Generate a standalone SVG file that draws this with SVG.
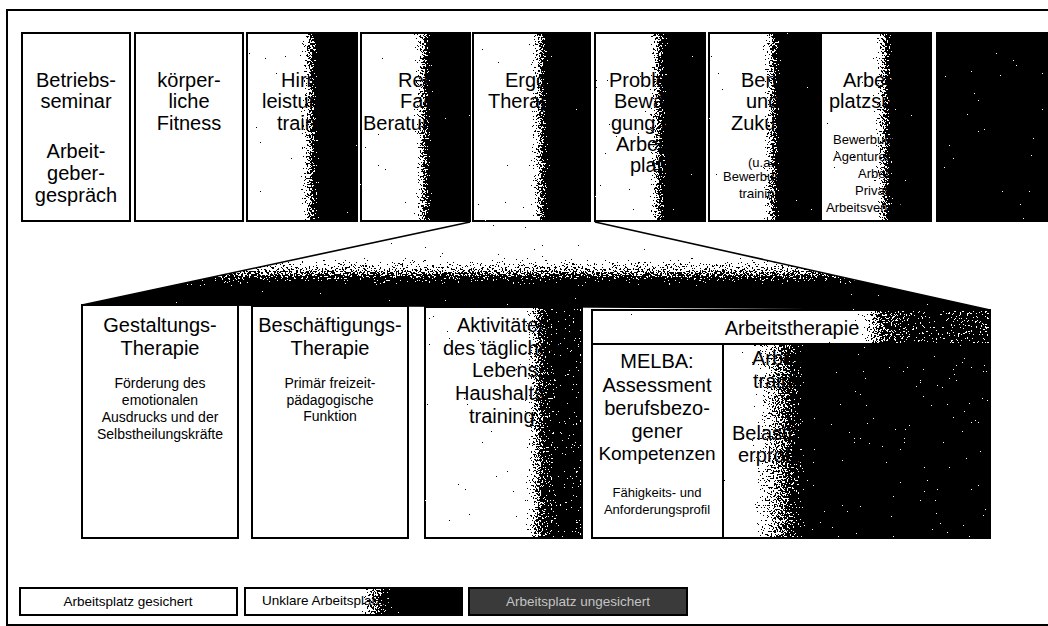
<svg xmlns="http://www.w3.org/2000/svg" width="1048" height="626" viewBox="0 0 1048 626">
<style>
.box{stroke:#000;stroke-width:2;}
.t{font-family:"Liberation Sans",Arial,sans-serif;font-size:20px;fill:#000;}
.s{font-family:"Liberation Sans",Arial,sans-serif;font-size:13px;fill:#000;}
.m{font-family:"Liberation Sans",Arial,sans-serif;font-size:14px;fill:#000;}
.c{text-anchor:middle;}
.ln{stroke:#000;stroke-width:1.6;fill:none;}
.g{filter:url(#grain);}
</style>
<defs>
<filter id="grain" color-interpolation-filters="sRGB" x="-2%" y="-2%" width="104%" height="104%">
<feTurbulence type="fractalNoise" baseFrequency="0.55" numOctaves="2" seed="7" result="noise"/>
<feColorMatrix in="noise" type="matrix" values="1 0 0 0 0  1 0 0 0 0  1 0 0 0 0  0 0 0 0 1" result="gn"/>
<feComposite in="SourceGraphic" in2="gn" operator="arithmetic" k1="0" k2="1" k3="1.5" k4="-0.75" result="mix"/>
<feComponentTransfer in="mix" result="thr">
<feFuncR type="discrete" tableValues="0 1"/>
<feFuncG type="discrete" tableValues="0 1"/>
<feFuncB type="discrete" tableValues="0 1"/>
</feComponentTransfer>
<feComposite in="thr" in2="SourceAlpha" operator="in"/>
</filter>
<linearGradient id="gTop" x1="0" y1="0" x2="1" y2="0">
<stop offset="0" stop-color="#fff"/><stop offset="0.47" stop-color="#fff"/><stop offset="0.58" stop-color="#777"/><stop offset="0.67" stop-color="#000"/><stop offset="1" stop-color="#000"/>
</linearGradient>
<linearGradient id="gAkt" x1="0" y1="0" x2="1" y2="0">
<stop offset="0" stop-color="#fff"/><stop offset="0.62" stop-color="#fff"/><stop offset="0.75" stop-color="#555"/><stop offset="0.87" stop-color="#222"/><stop offset="1" stop-color="#333"/>
</linearGradient>
<linearGradient id="gHead" x1="0" y1="0" x2="1" y2="0">
<stop offset="0" stop-color="#fff"/><stop offset="0.66" stop-color="#fff"/><stop offset="0.73" stop-color="#666"/><stop offset="0.85" stop-color="#333"/><stop offset="1" stop-color="#555"/>
</linearGradient>
<linearGradient id="gCell" x1="0" y1="0" x2="1" y2="0">
<stop offset="0" stop-color="#fff"/><stop offset="0.1" stop-color="#f4f4f4"/><stop offset="0.22" stop-color="#777"/><stop offset="0.32" stop-color="#0c0c0c"/><stop offset="1" stop-color="#111"/>
</linearGradient>
<linearGradient id="gLeg" x1="0" y1="0" x2="1" y2="0">
<stop offset="0" stop-color="#fff"/><stop offset="0.52" stop-color="#fff"/><stop offset="0.6" stop-color="#777"/><stop offset="0.69" stop-color="#111"/><stop offset="1" stop-color="#000"/>
</linearGradient>
<linearGradient id="gTrap" gradientUnits="userSpaceOnUse" x1="0" y1="255" x2="0" y2="287">
<stop offset="0" stop-color="#fff"/><stop offset="0.45" stop-color="#999"/><stop offset="1" stop-color="#000"/>
</linearGradient>
</defs>

<rect x="7" y="10" width="1050" height="615" fill="#fff" stroke="#000" stroke-width="2"/>

<g id="connectors">
<polygon class="g" points="470,222 595,222 990,310 82,305" fill="url(#gTrap)"/>
<line class="ln" x1="470" y1="222" x2="82" y2="305"/>
<line class="ln" x1="595" y1="222" x2="990" y2="310"/>
</g>

<g id="betriebsseminar">
<rect class="box" x="22" y="33" width="108" height="188" fill="#fff"/>
<text class="t c" x="76" y="87">Betriebs-</text>
<text class="t c" x="76" y="108">seminar</text>
<text class="t c" x="76" y="158">Arbeit-</text>
<text class="t c" x="76" y="180">geber-</text>
<text class="t c" x="76" y="202">gespräch</text>
</g>
<g id="fitness">
<rect class="box" x="135" y="33" width="108" height="188" fill="#fff"/>
<text class="t c" x="189" y="87">körper-</text>
<text class="t c" x="189" y="108">liche</text>
<text class="t c" x="189" y="130">Fitness</text>
</g>
<g id="hirnleistung">
<rect class="box g" x="247" y="33" width="110" height="188" fill="url(#gTop)"/>
<text class="t" x="281" y="87">Hirn-</text>
<text class="t" x="262" y="108">leistungs-</text>
<text class="t" x="277" y="130">training</text>
</g>
<g id="rehaberatung">
<rect class="box g" x="361" y="33" width="109" height="188" fill="url(#gTop)"/>
<text class="t" x="398" y="87">Reha-</text>
<text class="t" x="400" y="108">Fach-</text>
<text class="t" x="363" y="130">Beratung</text>
</g>
<g id="ergotherapie">
<rect class="box g" x="473" y="33" width="117" height="188" fill="url(#gTop)"/>
<text class="t" x="505" y="87">Ergo-</text>
<text class="t" x="488" y="108">Therapie</text>
</g>
<g id="problembewaeltigung">
<rect class="box g" x="595" y="33" width="110" height="188" fill="url(#gTop)"/>
<text class="t" x="609" y="87">Problem-</text>
<text class="t" x="614" y="108">Bewälti-</text>
<text class="t" x="611" y="130">gung am</text>
<text class="t" x="616" y="151">Arbeits-</text>
<text class="t" x="630" y="172">platz</text>
</g>
<g id="berufzukunft">
<rect class="box g" x="709" y="33" width="110" height="188" fill="url(#gTop)"/>
<text class="t" x="741" y="87">Beruf</text>
<text class="t" x="746" y="108">und</text>
<text class="t" x="731" y="130">Zukunft</text>
<text class="s" x="748" y="167">(u.a.</text>
<text class="s" x="723" y="181">Bewerbungs-</text>
<text class="s" x="739" y="198">training)</text>
</g>
<g id="arbeitsplatzsuche">
<rect class="box g" x="821" y="33" width="110" height="188" fill="url(#gTop)"/>
<text class="t" x="843" y="87">Arbeits-</text>
<text class="t" x="829" y="108">platzsuche</text>
<text class="s" x="833" y="144">Bewerbung,</text>
<text class="s" x="833" y="161">Agenturen für</text>
<text class="s" x="858" y="178">Arbeit,</text>
<text class="s" x="855" y="195">Private</text>
<text class="s" x="826" y="212">Arbeitsvermittlung</text>
</g>
<g id="dunkelbox">
<rect class="box g" x="937" y="33" width="120" height="188" fill="#050505"/>
</g>

<g id="gestaltungstherapie">
<rect class="box" x="82" y="305" width="156" height="233" fill="#fff"/>
<text class="t c" x="160" y="332">Gestaltungs-</text>
<text class="t c" x="160" y="355">Therapie</text>
<text class="m c" x="160" y="388">Förderung des</text>
<text class="m c" x="160" y="405">emotionalen</text>
<text class="m c" x="160" y="422">Ausdrucks und der</text>
<text class="m c" x="160" y="439">Selbstheilungskräfte</text>
</g>
<g id="beschaeftigungstherapie">
<rect class="box" x="252" y="306" width="156" height="232" fill="#fff"/>
<text class="t c" x="330" y="332">Beschäftigungs-</text>
<text class="t c" x="330" y="355">Therapie</text>
<text class="m c" x="330" y="388">Primär freizeit-</text>
<text class="m c" x="330" y="405">pädagogische</text>
<text class="m c" x="330" y="421">Funktion</text>
</g>
<g id="aktivitaeten">
<rect class="box g" x="425" y="307" width="157" height="231" fill="url(#gAkt)"/>
<text class="t" x="457" y="332">Aktivitäten</text>
<text class="t" x="443" y="355">des täglichen</text>
<text class="t" x="472" y="377">Lebens,</text>
<text class="t" x="455" y="400">Haushalts-</text>
<text class="t" x="469" y="423">training</text>
</g>
<g id="arbeitstherapie">
<rect class="box g" x="592" y="310" width="398" height="34" fill="url(#gHead)"/>
<text class="t c" x="792" y="335">Arbeitstherapie</text>
<rect class="box g" x="723" y="344" width="267" height="194" fill="url(#gCell)"/>
<text class="t" x="752" y="365">Arbeits-</text>
<text class="t" x="753" y="388">training</text>
<text class="t" x="732" y="440">Belastungs-</text>
<text class="t" x="738" y="462">erprobung</text>
</g>
<g id="melba">
<rect class="box" x="592" y="344" width="131" height="194" fill="#fff"/>
<text class="t c" x="657" y="368">MELBA:</text>
<text class="t c" x="657" y="392">Assessment</text>
<text class="t c" x="657" y="415">berufsbezo-</text>
<text class="t c" x="657" y="438">gener</text>
<text class="t c" x="657" y="460" style="font-size:19px">Kompetenzen</text>
<text class="s c" x="657" y="497">Fähigkeits- und</text>
<text class="s c" x="657" y="514">Anforderungsprofil</text>
</g>

<g id="legende-gesichert">
<rect class="box" x="20" y="588" width="217" height="27" fill="#fff"/>
<text class="m c" x="128" y="606" style="font-size:13.5px">Arbeitsplatz gesichert</text>
</g>
<g id="legende-unklar">
<rect class="box g" x="245" y="588" width="217" height="27" fill="url(#gLeg)"/>
<text class="m" x="262" y="605" style="font-size:13.5px">Unklare Arbeitsplatzsituation</text>
</g>
<g id="legende-ungesichert">
<rect class="box" x="469" y="588" width="218" height="27" fill="#3a3a3a"/>
<text class="m c" x="578" y="606" style="font-size:13.5px;fill:#c4c4c4">Arbeitsplatz ungesichert</text>
</g>
</svg>
